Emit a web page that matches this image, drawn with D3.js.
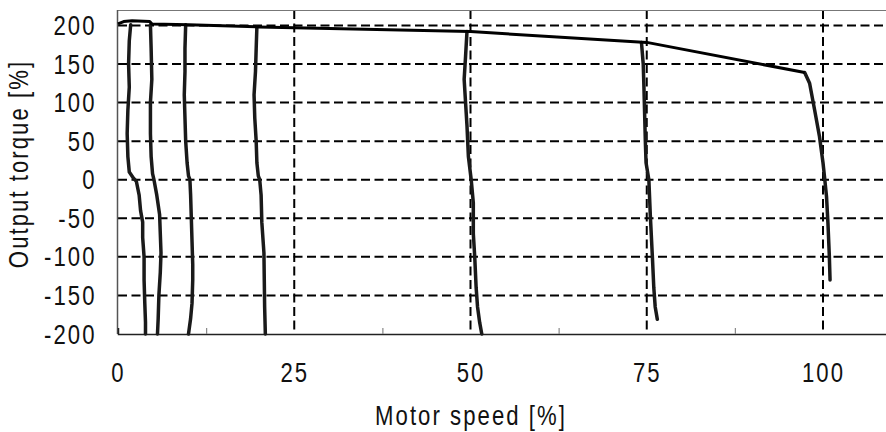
<!DOCTYPE html>
<html>
<head>
<meta charset="utf-8">
<script src="https://cdn.jsdelivr.net/npm/d3@7"></script>
<style>
  body { margin: 0; background: #fff; }
  text { font-family: "Liberation Sans", Arial, sans-serif; font-size: 27px; letter-spacing: 2.5px; fill: #111; }
</style>
</head>
<body>
<script>
// tick labels
var xTicks = [0, 25, 50, 75, 100];
var yTicks = [200, 150, 100, 50, 0, -50, -100, -150, -200];
var xMinor = [12.5, 37.5, 62.5, 87.5, 112.5];

// torque limit envelope (speed %, torque %)
var envSpeed  = [0, 0.8, 2, 4.5, 4.8, 10, 20, 50, 75, 97.4];
var envTorque = [202, 205, 206, 205, 202, 201, 198, 192, 178, 139];

// measured curves, one pair of arrays per speed setting
var c1Speed  = [1.8, 1.6, 1.5, 1.6, 1.4, 1.3, 1.4, 1.6, 2.2, 2.6, 3.0, 3.2, 3.5, 3.5, 3.7, 3.7, 3.8, 3.9, 3.9];
var c1Torque = [201, 180, 150, 120, 90, 60, 30, 10, 2, -2, -20, -40, -55, -75, -100, -130, -160, -185, -200];

var c2Speed  = [4.6, 4.7, 4.8, 4.6, 4.6, 4.7, 4.9, 5.1, 5.5, 5.9, 6.0, 6.1, 6.0, 5.8, 5.7, 5.6];
var c2Torque = [201, 170, 130, 100, 60, 30, 8, 0, -20, -45, -70, -95, -120, -150, -180, -200];

var c3Speed  = [9.6, 9.5, 9.5, 9.4, 9.5, 9.6, 9.8, 10.0, 10.2, 10.3, 10.4, 10.5, 10.6, 10.6, 10.5, 10.3, 10.0];
var c3Torque = [201, 170, 140, 110, 80, 50, 22, 5, 0, -20, -50, -80, -110, -130, -160, -180, -200];

var c4Speed  = [19.7, 19.6, 19.5, 19.3, 19.4, 19.6, 19.7, 19.9, 20.1, 20.3, 20.4, 20.7, 20.75, 20.8, 20.9];
var c4Torque = [198, 170, 140, 110, 80, 50, 22, 5, 0, -20, -55, -95, -130, -165, -200];

var c5Speed  = [49.5, 49.3, 49.1, 49.3, 49.5, 49.7, 50.1, 50.4, 50.4, 50.6, 50.8, 51.0, 51.3, 51.6];
var c5Torque = [192, 160, 130, 100, 70, 30, 0, -30, -70, -100, -140, -165, -185, -200];

var c6Speed  = [74.25, 74.5, 74.6, 74.7, 74.8, 74.9, 75.3, 75.5, 75.8, 76.0, 76.2, 76.5];
var c6Torque = [178, 150, 120, 85, 50, 22, 0, -45, -100, -140, -165, -181];

var c7Speed  = [97.4, 98.1, 98.8, 99.5, 100, 100.2, 100.5, 100.7, 100.9, 101.0];
var c7Torque = [139, 125, 91, 56, 22, 5, -22, -56, -99, -130];

// the original type is a condensed face, so the text is squeezed sideways
var squeeze = " scale(0.82,1)";

window.onload = function() {
	drawChart();
};

function drawChart() {
	var width = 886, height = 432;

	var svg = d3.select("body")
				.append("svg")
				.attr("width", width)
				.attr("height", height);

	// plot area runs off the right edge of the picture
	var xScale = d3.scaleLinear().domain([0, 110]).range([118, 118 + 110 * 7.05]);
	var yScale = d3.scaleLinear().domain([-200, 220]).range([334, 10]);

	var left = xScale(0), right = xScale(110), top = yScale(220), bottom = yScale(-200);

	// dashed gridlines
	svg.selectAll(".hgrid")
	   .data(yTicks.filter(function(d){ return d > -200; }))
	   .enter().append("line")
	   .attr("x1", left).attr("x2", right)
	   .attr("y1", function(d){ return yScale(d); })
	   .attr("y2", function(d){ return yScale(d); })
	   .attr("stroke", "#000").attr("stroke-width", 2)
	   .attr("stroke-dasharray", "9,4.5");

	svg.selectAll(".vgrid")
	   .data(xTicks.filter(function(d){ return d > 0; }))
	   .enter().append("line")
	   .attr("x1", function(d){ return xScale(d); })
	   .attr("x2", function(d){ return xScale(d); })
	   .attr("y1", top).attr("y2", bottom)
	   .attr("stroke", "#000").attr("stroke-width", 2)
	   .attr("stroke-dasharray", "9,4.5");

	// frame: top and left in gray, bottom axis darker
	svg.append("line").attr("x1", left).attr("x2", right).attr("y1", top + 0.5).attr("y2", top + 0.5)
	   .attr("stroke", "#777").attr("stroke-width", 1.2);
	svg.append("line").attr("x1", left - 0.5).attr("x2", left - 0.5).attr("y1", top).attr("y2", bottom)
	   .attr("stroke", "#555").attr("stroke-width", 1.5);

	// minor ticks on the x axis
	var minorAxis = svg.append("g")
		.attr("transform", "translate(0," + bottom + ")")
		.call(d3.axisBottom(xScale).tickValues(xMinor).tickSize(-6).tickFormat(""));
	minorAxis.select(".domain").attr("stroke", "#222").attr("stroke-width", 1.5);
	minorAxis.selectAll(".tick line").attr("stroke", "#888").attr("stroke-width", 1.2);

	// tick labels
	svg.selectAll(".xlab")
	   .data(xTicks)
	   .enter().append("text")
	   .attr("transform", function(d){ return "translate(" + (xScale(d) + 0.5) + ",382)" + squeeze; })
	   .attr("text-anchor", "middle")
	   .text(function(d){ return String(d); });

	svg.selectAll(".ylab")
	   .data(yTicks)
	   .enter().append("text")
	   .attr("transform", function(d){ return "translate(96.5," + (yScale(d) + 9.6) + ")" + squeeze; })
	   .attr("text-anchor", "end")
	   .text(function(d){ return String(d); });

	// axis titles
	svg.append("text")
	   .attr("transform", "translate(471,425)" + squeeze)
	   .attr("text-anchor", "middle")
	   .text("Motor speed [%]");

	svg.append("text")
	   .attr("transform", "translate(28,164) rotate(-90)" + squeeze)
	   .attr("text-anchor", "middle")
	   .text("Output torque [%]");

	// curves
	var line = d3.line()
		.x(function(d){ return xScale(d[0]); })
		.y(function(d){ return yScale(d[1]); });

	var curves = [
		[c1Speed, c1Torque], [c2Speed, c2Torque], [c3Speed, c3Torque], [c4Speed, c4Torque],
		[c5Speed, c5Torque], [c6Speed, c6Torque], [c7Speed, c7Torque]
	];

	curves.forEach(function(c) {
		svg.append("path")
		   .datum(d3.zip(c[0], c[1]))
		   .attr("d", line)
		   .attr("fill", "none")
		   .attr("stroke", "#1a1a1a")
		   .attr("stroke-width", 3.5)
		   .attr("stroke-linejoin", "round")
		   .attr("stroke-linecap", "round");
	});

	svg.append("path")
	   .datum(d3.zip(envSpeed, envTorque))
	   .attr("d", line)
	   .attr("fill", "none")
	   .attr("stroke", "#000")
	   .attr("stroke-width", 3)
	   .attr("stroke-linejoin", "round");
}
</script>
</body>
</html>
